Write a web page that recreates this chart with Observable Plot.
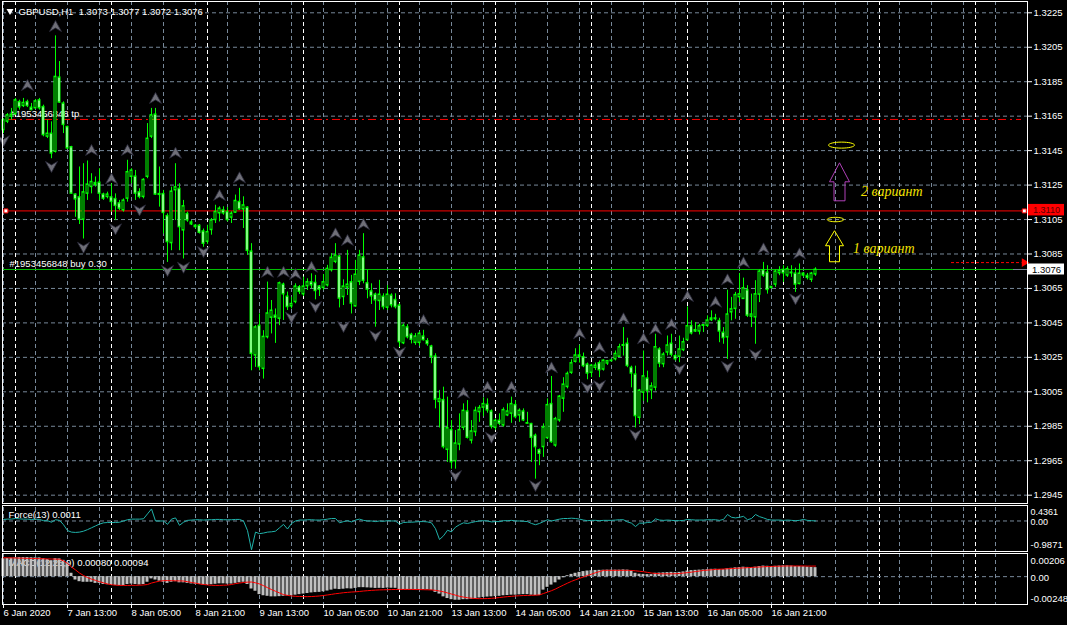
<!DOCTYPE html>
<html>
<head>
<meta charset="utf-8">
<script src="https://cdn.jsdelivr.net/npm/d3@7"></script>
<script src="https://cdn.jsdelivr.net/npm/@observablehq/plot@0.6"></script>
<style>
  html, body { margin: 0; padding: 0; background: #000; }
  #chart { position: relative; width: 1067px; height: 625px; background: #000; overflow: hidden; }
</style>
</head>
<body>
<div id="chart"></div>
<script>
// ================= DATA =================
const chartTitle = "GBPUSD,H1\u00a0 1.3073 1.3077 1.3072 1.3076";

const opens = [
1.31568,1.31617,1.31646,1.31660,1.31733,1.31708,1.31733,1.31700,1.31695,1.31743,
1.31704,1.31530,1.31549,1.31442,1.31875,1.31724,1.31588,1.31471,1.31196,1.31180,
1.31048,1.31199,1.31238,1.31263,1.31265,1.31196,1.31180,1.31180,1.31170,1.31145,
1.31102,1.31170,1.31297,1.31300,1.31209,1.31180,1.31297,1.31530,1.31660,1.31199,
1.31199,1.31071,1.30912,1.31219,1.31229,1.30986,1.31083,1.31034,1.31015,1.31015,
1.30982,1.30920,1.30988,1.31046,1.31085,1.31104,1.31095,1.31060,1.31089,1.31153,
1.31108,1.31120,1.30865,1.30260,1.30434,1.30182,1.30366,1.30479,1.30493,1.30473,
1.30673,1.30603,1.30545,1.30570,1.30658,1.30615,1.30662,1.30687,1.30683,1.30662,
1.30652,1.30667,1.30755,1.30803,1.30836,1.30599,1.30654,1.30687,1.30545,1.30687,
1.30832,1.30681,1.30634,1.30615,1.30576,1.30603,1.30537,1.30609,1.30584,1.30551,
1.30331,1.30425,1.30382,1.30333,1.30333,1.30372,1.30345,1.30314,1.30256,1.29990,
1.30003,1.29712,1.29829,1.29646,1.29743,1.29840,1.29937,1.29766,1.29815,1.29931,
1.29957,1.29976,1.29937,1.29840,1.29883,1.29854,1.29912,1.29922,1.29974,1.29912,
1.29937,1.29869,1.29864,1.29796,1.29712,1.29728,1.29780,1.29980,1.29737,1.29883,
1.30009,1.30077,1.30159,1.30223,1.30262,1.30252,1.30209,1.30159,1.30188,1.30217,
1.30178,1.30213,1.30227,1.30238,1.30252,1.30316,1.30330,1.30190,1.30151,1.29898,
1.30044,1.30128,1.30058,1.30073,1.30297,1.30209,1.30277,1.30330,1.30258,1.30252,
1.30291,1.30349,1.30432,1.30399,1.30399,1.30432,1.30432,1.30465,1.30477,1.30462,
1.30394,1.30365,1.30510,1.30530,1.30598,1.30588,1.30640,1.30485,1.30481,1.30613,
1.30757,1.30743,1.30652,1.30671,1.30737,1.30759,1.30724,1.30743,1.30737,1.30675,
1.30737,1.30724,1.30699,1.30730];

const highs = [
1.31636,1.31665,1.31695,1.31753,1.31743,1.31753,1.31743,1.31724,1.31747,1.31753,
1.31714,1.31627,1.31617,1.32116,1.31967,1.31733,1.31592,1.31475,1.31199,1.31355,
1.31374,1.31390,1.31316,1.31297,1.31345,1.31203,1.31209,1.31258,1.31199,1.31161,
1.31170,1.31394,1.31345,1.31335,1.31229,1.31287,1.31607,1.31695,1.31695,1.31355,
1.31219,1.31083,1.31238,1.31374,1.31258,1.31161,1.31093,1.31044,1.31021,1.31021,
1.30995,1.31017,1.31056,1.31133,1.31124,1.31124,1.31120,1.31095,1.31192,1.31231,
1.31182,1.31124,1.30910,1.30434,1.30502,1.30405,1.30687,1.30580,1.30531,1.30687,
1.30681,1.30629,1.30599,1.30677,1.30667,1.30716,1.30706,1.30735,1.30726,1.30667,
1.30731,1.30784,1.30852,1.30910,1.30842,1.30700,1.30871,1.30726,1.30813,1.30871,
1.30968,1.30755,1.30677,1.30623,1.30697,1.30619,1.30667,1.30619,1.30619,1.30561,
1.30444,1.30440,1.30390,1.30388,1.30398,1.30407,1.30359,1.30320,1.30271,1.30058,
1.30077,1.30019,1.29883,1.29825,1.29922,1.29980,1.29999,1.29883,1.29961,1.29970,
1.30015,1.30009,1.29945,1.29893,1.29922,1.29957,1.29980,1.30019,1.29999,1.29951,
1.29951,1.29931,1.29867,1.29805,1.29718,1.29864,1.30009,1.30139,1.29902,1.30029,
1.30132,1.30165,1.30236,1.30300,1.30320,1.30275,1.30217,1.30209,1.30217,1.30229,
1.30236,1.30232,1.30240,1.30287,1.30326,1.30423,1.30361,1.30199,1.30199,1.30064,
1.30287,1.30170,1.30102,1.30384,1.30306,1.30277,1.30374,1.30384,1.30267,1.30374,
1.30361,1.30543,1.30462,1.30452,1.30442,1.30442,1.30491,1.30520,1.30500,1.30477,
1.30423,1.30640,1.30598,1.30627,1.30737,1.30710,1.30666,1.30617,1.30695,1.30757,
1.30801,1.30782,1.30660,1.30757,1.30776,1.30782,1.30776,1.30782,1.30768,1.30792,
1.30743,1.30737,1.30743,1.30770];

const lows = [
1.31549,1.31607,1.31627,1.31656,1.31685,1.31700,1.31700,1.31681,1.31689,1.31685,
1.31530,1.31520,1.31403,1.31436,1.31724,1.31549,1.31456,1.31196,1.31063,1.31021,
1.30937,1.31161,1.31199,1.31238,1.31161,1.31161,1.31170,1.31093,1.31044,1.31102,
1.31093,1.31151,1.31258,1.31161,1.31170,1.31170,1.31287,1.31520,1.31190,1.31122,
1.30966,1.30801,1.30869,1.31044,1.30869,1.30821,1.31034,1.31015,1.30995,1.30966,
1.30889,1.30906,1.30959,1.31027,1.31036,1.31075,1.31036,1.31027,1.31085,1.31104,
1.30998,1.30842,1.30172,1.30192,1.30172,1.30124,1.30357,1.30386,1.30331,1.30434,
1.30464,1.30522,1.30531,1.30561,1.30615,1.30603,1.30638,1.30648,1.30584,1.30603,
1.30638,1.30658,1.30745,1.30794,1.30537,1.30551,1.30609,1.30502,1.30541,1.30667,
1.30677,1.30590,1.30557,1.30425,1.30522,1.30526,1.30522,1.30537,1.30531,1.30308,
1.30324,1.30357,1.30328,1.30320,1.30314,1.30345,1.30314,1.30213,1.29951,1.29840,
1.29718,1.29640,1.29601,1.29601,1.29708,1.29825,1.29776,1.29747,1.29790,1.29873,
1.29906,1.29926,1.29834,1.29825,1.29854,1.29844,1.29906,1.29867,1.29893,1.29873,
1.29877,1.29864,1.29640,1.29543,1.29621,1.29669,1.29776,1.29751,1.29728,1.29873,
1.29931,1.30067,1.30151,1.30217,1.30217,1.30190,1.30120,1.30132,1.30174,1.30132,
1.30170,1.30203,1.30223,1.30229,1.30248,1.30258,1.30190,1.30073,1.29840,1.29860,
1.29995,1.29986,1.30005,1.30054,1.30190,1.30190,1.30258,1.30252,1.30229,1.30219,
1.30283,1.30345,1.30380,1.30394,1.30380,1.30394,1.30423,1.30458,1.30462,1.30335,
1.30326,1.30238,1.30462,1.30471,1.30568,1.30588,1.30481,1.30423,1.30326,1.30568,
1.30714,1.30617,1.30646,1.30656,1.30724,1.30685,1.30714,1.30714,1.30627,1.30671,
1.30714,1.30699,1.30685,1.30720];

const closes = [
1.31627,1.31656,1.31660,1.31743,1.31700,1.31728,1.31708,1.31685,1.31737,1.31695,
1.31539,1.31549,1.31432,1.31879,1.31728,1.31598,1.31462,1.31199,1.31166,1.31048,
1.31209,1.31254,1.31269,1.31250,1.31199,1.31170,1.31196,1.31151,1.31128,1.31112,
1.31161,1.31326,1.31335,1.31199,1.31180,1.31281,1.31520,1.31656,1.31194,1.31192,
1.31087,1.30918,1.31213,1.31238,1.31005,1.31128,1.31044,1.31021,1.31005,1.30972,
1.30908,1.30978,1.31046,1.31095,1.31114,1.31085,1.31046,1.31085,1.31159,1.31108,
1.31133,1.30867,1.30269,1.30425,1.30192,1.30370,1.30506,1.30522,1.30479,1.30681,
1.30615,1.30541,1.30561,1.30662,1.30629,1.30662,1.30687,1.30667,1.30634,1.30642,
1.30687,1.30765,1.30829,1.30842,1.30590,1.30662,1.30673,1.30561,1.30731,1.30842,
1.30693,1.30642,1.30603,1.30580,1.30615,1.30541,1.30615,1.30551,1.30541,1.30337,
1.30434,1.30366,1.30351,1.30372,1.30388,1.30349,1.30326,1.30252,1.30003,1.30009,
1.29728,1.29840,1.29640,1.29751,1.29829,1.29941,1.29782,1.29821,1.29941,1.29957,
1.29980,1.29941,1.29848,1.29883,1.29864,1.29945,1.29937,1.29980,1.29902,1.29941,
1.29883,1.29864,1.29782,1.29728,1.29689,1.29844,1.29974,1.29757,1.29893,1.30023,
1.30093,1.30155,1.30217,1.30262,1.30252,1.30198,1.30155,1.30203,1.30203,1.30174,
1.30232,1.30229,1.30232,1.30271,1.30310,1.30322,1.30199,1.30155,1.29908,1.30058,
1.30141,1.30054,1.30083,1.30310,1.30213,1.30267,1.30320,1.30264,1.30238,1.30297,
1.30339,1.30432,1.30388,1.30409,1.30432,1.30438,1.30465,1.30477,1.30471,1.30399,
1.30361,1.30500,1.30530,1.30613,1.30617,1.30652,1.30491,1.30500,1.30617,1.30749,
1.30724,1.30640,1.30660,1.30749,1.30753,1.30737,1.30763,1.30737,1.30671,1.30737,
1.30724,1.30710,1.30737,1.30760];

const forceValues = [
0.05,0.06,0.06,0.08,0.07,0.06,0.06,0.05,0.06,0.05,
0.01,0.01,-0.04,0.04,0.02,-0.12,-0.31,-0.36,-0.37,-0.36,
-0.33,-0.28,-0.22,-0.16,-0.10,-0.06,-0.05,-0.05,-0.05,-0.04,
0.00,0.04,0.06,0.06,0.06,0.07,0.23,0.39,0.00,0.00,
0.00,-0.11,0.06,0.10,-0.14,-0.04,0.02,0.03,0.04,0.04,
0.03,0.04,0.04,0.05,0.05,0.04,0.04,0.04,0.05,0.05,
0.00,-0.31,-0.93,-0.36,-0.41,-0.39,-0.36,-0.35,-0.33,-0.22,
-0.11,-0.26,-0.08,0.00,0.03,0.03,0.04,0.04,0.03,0.03,
0.04,0.06,0.08,0.08,-0.06,-0.02,0.01,-0.03,0.03,0.06,
0.02,0.00,0.00,-0.02,0.00,-0.01,0.01,0.00,0.00,-0.10,
-0.05,-0.04,-0.04,-0.03,-0.02,-0.02,-0.03,-0.06,-0.25,-0.60,
-0.48,-0.30,-0.35,-0.20,-0.12,-0.06,-0.08,-0.05,-0.02,0.00,
0.01,0.00,-0.03,-0.02,-0.02,0.01,0.01,0.02,0.00,0.00,
-0.01,-0.02,-0.08,-0.12,-0.08,-0.02,0.04,0.00,0.03,0.06,
0.08,0.08,0.09,0.08,0.06,0.03,0.01,0.02,0.02,0.01,
0.02,0.02,0.02,0.03,0.04,0.04,-0.03,-0.07,-0.18,-0.07,
-0.07,-0.05,-0.04,0.07,0.03,0.02,0.03,0.02,0.01,0.01,
0.02,0.05,0.04,0.03,0.03,0.03,0.04,0.04,0.04,0.02,
0.05,0.21,0.12,0.10,0.12,0.15,0.04,0.08,0.21,0.14,
0.10,0.05,0.03,0.03,0.03,0.02,0.03,0.02,0.01,0.02,
0.05,0.02,0.01,0.0011];

const macdMain = [
0.00160,0.00162,0.00165,0.00168,0.00170,0.00170,0.00170,0.00168,0.00168,0.00167,
0.00160,0.00152,0.00142,0.00160,0.00158,0.00145,0.00125,0.00030,-0.00030,-0.00045,
-0.00050,-0.00050,-0.00050,-0.00060,-0.00060,-0.00070,-0.00072,-0.00074,-0.00078,-0.00080,
-0.00080,-0.00070,-0.00066,-0.00070,-0.00074,-0.00070,-0.00050,-0.00020,-0.00030,-0.00040,
-0.00050,-0.00060,-0.00050,-0.00045,-0.00055,-0.00055,-0.00060,-0.00065,-0.00068,-0.00070,
-0.00075,-0.00075,-0.00072,-0.00068,-0.00064,-0.00064,-0.00066,-0.00066,-0.00060,-0.00055,
-0.00050,-0.00070,-0.00110,-0.00130,-0.00160,-0.00170,-0.00175,-0.00180,-0.00180,-0.00178,
-0.00175,-0.00172,-0.00170,-0.00165,-0.00160,-0.00155,-0.00150,-0.00145,-0.00142,-0.00140,
-0.00135,-0.00128,-0.00120,-0.00112,-0.00115,-0.00112,-0.00108,-0.00110,-0.00105,-0.00098,
-0.00098,-0.00100,-0.00102,-0.00105,-0.00104,-0.00105,-0.00102,-0.00103,-0.00104,-0.00115,
-0.00115,-0.00116,-0.00117,-0.00118,-0.00116,-0.00116,-0.00117,-0.00122,-0.00140,-0.00155,
-0.00180,-0.00195,-0.00205,-0.00210,-0.00210,-0.00205,-0.00205,-0.00202,-0.00198,-0.00190,
-0.00185,-0.00182,-0.00180,-0.00178,-0.00175,-0.00170,-0.00168,-0.00165,-0.00165,-0.00162,
-0.00160,-0.00160,-0.00165,-0.00168,-0.00168,-0.00120,-0.00095,-0.00075,-0.00055,-0.00030,
-0.00010,0.00008,0.00020,0.00030,0.00038,0.00045,0.00050,0.00053,0.00055,0.00056,
0.00057,0.00058,0.00058,0.00058,0.00058,0.00060,0.00058,0.00050,0.00030,0.00022,
0.00020,0.00018,0.00018,0.00030,0.00032,0.00034,0.00036,0.00038,0.00036,0.00038,
0.00042,0.00050,0.00054,0.00056,0.00058,0.00060,0.00062,0.00065,0.00066,0.00064,
0.00062,0.00070,0.00074,0.00078,0.00080,0.00084,0.00082,0.00080,0.00084,0.00090,
0.00094,0.00092,0.00090,0.00092,0.00094,0.00096,0.00096,0.00094,0.00090,0.00090,
0.00088,0.00085,0.00082,0.00080];

const macdSignal = [
0.00168,0.00168,0.00167,0.00166,0.00165,0.00164,0.00163,0.00162,0.00161,0.00160,
0.00159,0.00158,0.00157,0.00156,0.00155,0.00140,0.00118,0.00086,0.00060,0.00032,
0.00010,-0.00008,-0.00022,-0.00033,-0.00045,-0.00055,-0.00065,-0.00072,-0.00076,-0.00078,
-0.00078,-0.00078,-0.00077,-0.00077,-0.00076,-0.00074,-0.00070,-0.00057,-0.00048,-0.00040,
-0.00036,-0.00035,-0.00036,-0.00037,-0.00038,-0.00039,-0.00045,-0.00052,-0.00058,-0.00065,
-0.00070,-0.00074,-0.00077,-0.00078,-0.00078,-0.00076,-0.00075,-0.00070,-0.00062,-0.00057,
-0.00052,-0.00049,-0.00048,-0.00055,-0.00065,-0.00080,-0.00098,-0.00115,-0.00130,-0.00145,
-0.00160,-0.00167,-0.00172,-0.00175,-0.00176,-0.00178,-0.00178,-0.00177,-0.00175,-0.00172,
-0.00168,-0.00163,-0.00158,-0.00152,-0.00148,-0.00143,-0.00140,-0.00137,-0.00135,-0.00132,
-0.00128,-0.00125,-0.00122,-0.00120,-0.00118,-0.00117,-0.00116,-0.00115,-0.00114,-0.00114,
-0.00114,-0.00114,-0.00114,-0.00115,-0.00115,-0.00116,-0.00117,-0.00118,-0.00122,-0.00128,
-0.00135,-0.00145,-0.00155,-0.00165,-0.00175,-0.00182,-0.00188,-0.00192,-0.00195,-0.00196,
-0.00196,-0.00195,-0.00193,-0.00190,-0.00186,-0.00182,-0.00178,-0.00175,-0.00172,-0.00170,
-0.00168,-0.00167,-0.00166,-0.00165,-0.00163,-0.00150,-0.00138,-0.00125,-0.00110,-0.00092,
-0.00075,-0.00058,-0.00042,-0.00028,-0.00015,-0.00003,0.00010,0.00022,0.00035,0.00045,
0.00056,0.00056,0.00056,0.00056,0.00056,0.00056,0.00056,0.00055,0.00052,0.00048,
0.00044,0.00038,0.00032,0.00028,0.00026,0.00025,0.00025,0.00025,0.00026,0.00028,
0.00032,0.00036,0.00040,0.00045,0.00050,0.00055,0.00058,0.00061,0.00064,0.00066,
0.00068,0.00070,0.00072,0.00074,0.00076,0.00078,0.00080,0.00082,0.00084,0.00086,
0.00088,0.00090,0.00091,0.00092,0.00093,0.00094,0.00095,0.00095,0.00095,0.00095,
0.00095,0.00094,0.00094,0.00094];

const priceTicks = [1.2945,1.2965,1.2985,1.3005,1.3025,1.3045,1.3065,1.3085,1.3105,1.3125,1.3145,1.3165,1.3185,1.3205,1.3225];
const timeTickBars = [0,16,32,48,64,80,96,112,128,144,160,176,192];
const timeTickLabels = ["6 Jan 2020","7 Jan 13:00","8 Jan 05:00","8 Jan 21:00","9 Jan 13:00","10 Jan 05:00","10 Jan 21:00","13 Jan 13:00","14 Jan 05:00","14 Jan 21:00","15 Jan 13:00","16 Jan 05:00","16 Jan 21:00"];

const fractalUpBars   = [6,13,22,27,31,38,43,54,59,66,70,73,77,83,86,90,105,115,121,127,137,144,149,155,160,163,167,171,178,181,185,190,199];
const fractalUpPrices = [1.31828,1.32170,1.31451,1.31286,1.31451,1.31753,1.31435,1.31190,1.31292,1.30744,1.30744,1.30731,1.30773,1.30967,1.30928,1.31021,1.30464,1.30042,1.30077,1.30077,1.30189,1.30387,1.30306,1.30474,1.30358,1.30412,1.30441,1.30603,1.30570,1.30700,1.30799,1.30880,1.30851];
const fractalDownBars   = [0,12,20,28,34,41,45,50,72,78,85,93,99,113,122,133,146,149,158,169,181,188,198];
const fractalDownPrices = [1.31508,1.31358,1.30889,1.30996,1.31106,1.30754,1.30773,1.30864,1.30483,1.30545,1.30429,1.30377,1.30280,1.29564,1.29786,1.29506,1.30077,1.30087,1.29802,1.30184,1.30197,1.30267,1.30590];

const levelPrice = 1.3110;            // red horizontal line
const levelAnchorBars = [0.6, 255.2]; // its selection points
const tpPrice = 1.31631;
const buyPrice = 1.3076;
const bidPrice = 1.3076;
const dottedArrowPrice = 1.3080;
const dottedArrowBars = [237, 254.6];
const orderLabels = ["#1953456848 tp", "#1953456848 buy 0.30"];
const forceLabel = "Force(13) 0.0011";
const forceScale = [0.4361, 0, -0.9871];
const forceScaleText = ["0.4361", "0.00", "-0.9871"];
const macdLabel = "MACD(12,26,9) 0.00080 0.00094";
const macdScale = [0.00206, 0, -0.00248];
const macdScaleText = ["0.00206", "0.00", "-0.00248"];

const variantTexts  = ["1 вариант", "2 вариант"];
const variantBars   = [212.4, 214.4];
const variantPrices = [1.30882, 1.31215];
const ellipseBars   = [209.5, 208.0];
const ellipsePrices = [1.31482, 1.31050];
const arrowBars     = [207.75, 209.0];
const arrowPrices   = [1.30895, 1.31269];

// ================= CHECK =================
for (const [n, a] of Object.entries({opens, highs, lows, closes, forceValues, macdMain, macdSignal})) {
  if (a.length !== 204) throw new Error(n + " has length " + a.length);
}

// ================= HELPERS =================
const W = 1067;
const X0 = -0.25, X1 = 256;               // bar k sits at 3 + 4k px; frame spans 2..1027
const boxFrom = X1 + 0.25, boxTo = X1 + 9.25, boxMid = X1 + 4.75;   // price-scale box column
const FONT = "'Liberation Sans', Arial, sans-serif";
const GRID = "#778899";
const baseStyle = {background: "transparent", color: "#ffffff", fontFamily: FONT, fontSize: "9.5px", overflow: "visible"};

function shape(pts) {
  return {draw(ctx) { ctx.moveTo(pts[0][0], pts[0][1]); for (let j = 1; j < pts.length; j++) ctx.lineTo(pts[j][0], pts[j][1]); ctx.closePath(); }};
}
function ellipse(rx, ry) {
  const k = 0.5523;
  return {draw(ctx) {
    ctx.moveTo(rx, 0);
    ctx.bezierCurveTo(rx, ry * k, rx * k, ry, 0, ry);
    ctx.bezierCurveTo(-rx * k, ry, -rx, ry * k, -rx, 0);
    ctx.bezierCurveTo(-rx, -ry * k, -rx * k, -ry, 0, -ry);
    ctx.bezierCurveTo(rx * k, -ry, rx, -ry * k, rx, 0);
    ctx.closePath();
  }};
}
function upArrow(w, sw, h, hh) {
  const t = -h / 2, b = h / 2, m = t + hh;
  return shape([[0, t], [w / 2, m], [sw / 2, m], [sw / 2, b], [-sw / 2, b], [-sw / 2, m], [-w / 2, m]]);
}
function box(w, h) { return {draw(ctx) { ctx.rect(-w / 2, -h / 2, w, h); }}; }

const fracUp = shape([[0, -6], [6, 5], [0, 1.5], [-6, 5]]);
const fracDown = shape([[0, 6], [6, -5], [0, -1.5], [-6, -5]]);

const bars = opens.map((o, i) => ({i, o, h: highs[i], l: lows[i], c: closes[i]}));
const upFr = fractalUpBars.map((k, j) => ({k, p: fractalUpPrices[j]}));
const dnFr = fractalDownBars.map((k, j) => ({k, p: fractalDownPrices[j]}));

const gridK = d3.range(0, 256, 8);
const sepK = d3.range(3, 256, 24);
const gridMarks = () => [
  Plot.ruleX(gridK, {stroke: GRID, strokeDasharray: "4,3"}),
  Plot.ruleX(sepK, {stroke: "#ffffff", strokeDasharray: "4,3"})
];

const root = document.getElementById("chart");
function place(el, top) { el.style.position = "absolute"; el.style.left = "0px"; el.style.top = top + "px"; root.appendChild(el); }

// ================= MAIN PRICE PANEL =================
const main = Plot.plot({
  width: W, height: 504, marginLeft: 2, marginRight: 40, marginTop: 1, marginBottom: 1,
  x: {domain: [X0, X1], axis: null},
  y: {domain: [1.294017, 1.323156], axis: null},
  style: baseStyle,
  marks: [
    Plot.ruleY(priceTicks, {stroke: GRID, strokeDasharray: "4,3"}),
    ...gridMarks(),
    // order labels (under candles)
    Plot.text([orderLabels[0]], {y: () => tpPrice, frameAnchor: "left", dx: 8, dy: -5.5, textAnchor: "start", fill: "#ffffff", fontSize: 9.5}),
    Plot.text([orderLabels[1]], {y: () => buyPrice, frameAnchor: "left", dx: 7, dy: -5.5, textAnchor: "start", fill: "#ffffff", fontSize: 9.5}),
    // order / level lines
    Plot.ruleY([bidPrice], {stroke: GRID}),
    Plot.ruleY([buyPrice], {stroke: "#00c000", insetRight: 14}),
    Plot.ruleY([tpPrice], {stroke: "#ff0000", strokeDasharray: "8,4,2,4", insetLeft: 6, insetRight: 6}),
    Plot.ruleY([levelPrice], {stroke: "#ff0000", insetRight: 4}),
    // candles
    Plot.ruleX(bars, {x: "i", y1: "l", y2: "h", stroke: "#00ff00"}),
    Plot.rect(bars, {x1: d => d.i - 0.375, x2: d => d.i + 0.375, y1: "o", y2: "c", fill: "#00ff00", insetTop: -0.5, insetBottom: -0.5}),
    Plot.rect(bars.filter(d => Math.abs(d.o - d.c) > 0.00013), {x1: d => d.i - 0.375, x2: d => d.i + 0.375, y1: "o", y2: "c", inset: 1, fill: d => d.c >= d.o ? "#000000" : "#ffffff"}),
    // fractals
    Plot.dot(upFr, {x: "k", y: "p", symbol: fracUp, r: 6, fill: "#6f6f78", stroke: "#2a2a3a", strokeWidth: 0.8}),
    Plot.dot(dnFr, {x: "k", y: "p", symbol: fracDown, r: 6, fill: "#6f6f78", stroke: "#2a2a3a", strokeWidth: 0.8}),
    // level selection points
    Plot.dot(levelAnchorBars, {x: d => d, y: () => levelPrice, symbol: box(4, 4), r: 1, fill: "#ffffff", stroke: "#ff0000", strokeWidth: 1}),
    // dotted red arrow
    Plot.ruleY([dottedArrowPrice], {x1: () => dottedArrowBars[0], x2: () => dottedArrowBars[1], stroke: "#ff0000", strokeDasharray: "3,2"}),
    Plot.dot([dottedArrowPrice], {x: () => dottedArrowBars[1] + 0.6, y: d => d, symbol: "triangle", rotate: 90, r: 3.2, fill: "#ff0000", stroke: "none"}),
    // annotations
    Plot.dot([0], {x: () => ellipseBars[0], y: () => ellipsePrices[0], symbol: ellipse(13, 3), r: 1, fill: "none", stroke: "#ffff00", strokeWidth: 1}),
    Plot.dot([0], {x: () => ellipseBars[1], y: () => ellipsePrices[1], symbol: ellipse(8.3, 2.2), r: 1, fill: "none", stroke: "#ffff00", strokeWidth: 1}),
    Plot.dot([0], {x: () => arrowBars[0], y: () => arrowPrices[0], symbol: upArrow(18, 10, 31, 15), r: 1, fill: "none", stroke: "#ffff00", strokeWidth: 1}),
    Plot.dot([0], {x: () => arrowBars[1], y: () => arrowPrices[1], symbol: upArrow(20, 11, 38, 19), r: 1, fill: "none", stroke: "#b040b8", strokeWidth: 1}),
    Plot.text(variantTexts, {x: (d, i) => variantBars[i], y: (d, i) => variantPrices[i], text: d => d, textAnchor: "start", fill: "#f2e200", fontFamily: "'Liberation Serif', 'Times New Roman', serif", fontStyle: "italic", fontSize: 14}),
    // title
    Plot.dot([0], {frameAnchor: "top-left", dx: 7.5, dy: 9.5, symbol: "triangle", rotate: 180, r: 2.6, fill: "#ffffff", stroke: "none"}),
    Plot.text([chartTitle], {frameAnchor: "top-left", dx: 16, dy: 10, textAnchor: "start", lineAnchor: "middle", fill: "#ffffff", fontSize: 9.5}),
    // frame + right price axis
    Plot.frame({stroke: "#ffffff"}),
    Plot.axisY(priceTicks, {anchor: "right", tickSize: 4, tickPadding: 2, tickFormat: d => d.toFixed(4), stroke: "#ffffff", fill: "#ffffff", fontSize: 9.5}),
    // price boxes on the scale
    Plot.rect([levelPrice], {x1: () => boxFrom, x2: () => boxTo, y1: d => d, y2: d => d, insetTop: -6.5, insetBottom: -5, fill: "#ff0000"}),
    Plot.text([levelPrice], {x: () => boxMid, y: d => d, dy: -1.2, text: d => d.toFixed(4), fill: "#5a0000", fontSize: 9}),
    Plot.rect([bidPrice], {x1: () => boxFrom, x2: () => boxTo, y1: d => d, y2: d => d, insetTop: -5.5, insetBottom: -5.5, fill: "#ffffff"}),
    Plot.text([bidPrice], {x: () => boxMid, y: d => d, text: d => d.toFixed(4), fill: "#000000", fontSize: 9.5})
  ]
});
place(main, 0);

// ================= FORCE PANEL =================
const force = Plot.plot({
  width: W, height: 46, marginLeft: 2, marginRight: 40, marginTop: 2, marginBottom: 0,
  x: {domain: [X0, X1], axis: null},
  y: {domain: [-0.9871, 0.4361], axis: null},
  style: baseStyle,
  marks: [
    ...gridMarks(),
    Plot.ruleY([0], {stroke: GRID, strokeDasharray: "4,3"}),
    Plot.text([forceLabel], {frameAnchor: "top-left", dx: 6, dy: 7.7, textAnchor: "start", lineAnchor: "middle", fill: "#ffffff", fontSize: 9.5}),
    Plot.line(forceValues, {x: (d, i) => i, y: d => d, stroke: "#20b2aa", strokeWidth: 1}),
    Plot.frame({stroke: "#ffffff", insetTop: -2}),
    Plot.text([forceScale[0]], {y: d => d, frameAnchor: "right", dx: 3, dy: 4.8, textAnchor: "start", text: () => forceScaleText[0], fill: "#ffffff", fontSize: 9}),
    Plot.text([forceScale[1]], {y: d => d, frameAnchor: "right", dx: 3, dy: 1, textAnchor: "start", text: () => forceScaleText[1], fill: "#ffffff", fontSize: 9}),
    Plot.text([forceScale[2]], {y: d => d, frameAnchor: "right", dx: 3, dy: -7, textAnchor: "start", text: () => forceScaleText[2], fill: "#ffffff", fontSize: 9.5})
  ]
});
place(force, 505);

// ================= MACD PANEL =================
const hist = macdMain.map((v, i) => ({i, v}));
const macd = Plot.plot({
  width: W, height: 72, marginLeft: 2, marginRight: 40, marginTop: 0, marginBottom: 21,
  x: {domain: [X0, X1], axis: null},
  y: {domain: [-0.00248, 0.00206], axis: null},
  style: baseStyle,
  marks: [
    ...gridMarks(),
    Plot.ruleY([0], {stroke: GRID, strokeDasharray: "4,3"}),
    Plot.text([macdLabel], {frameAnchor: "top-left", dx: 6, dy: 9.3, textAnchor: "start", lineAnchor: "middle", fill: "#ffffff", fontSize: 9.5}),
    Plot.rect(hist, {x1: d => d.i - 0.375, x2: d => d.i + 0.375, y1: () => 0, y2: "v", fill: "#c0c0c0"}),
    Plot.line(macdSignal, {x: (d, i) => i, y: d => d, stroke: "#ff0000", strokeWidth: 1}),
    Plot.frame({stroke: "#ffffff"}),
    Plot.text([macdScale[0]], {y: d => d, frameAnchor: "right", dx: 3, dy: 7.7, textAnchor: "start", text: () => macdScaleText[0], fill: "#ffffff", fontSize: 9.5}),
    Plot.text([macdScale[1]], {y: d => d, frameAnchor: "right", dx: 3, dy: 1, textAnchor: "start", text: () => macdScaleText[1], fill: "#ffffff", fontSize: 9.5}),
    Plot.text([macdScale[2]], {y: d => d, frameAnchor: "right", dx: 3, dy: -5.7, textAnchor: "start", text: () => macdScaleText[2], fill: "#ffffff", fontSize: 9.5}),
    Plot.axisX(timeTickBars, {anchor: "bottom", tickSize: 4, tickPadding: 1, tickFormat: d => timeTickLabels[timeTickBars.indexOf(d)], textAnchor: "start", stroke: "#ffffff", fill: "#ffffff", fontSize: 9.5})
  ]
});
place(macd, 553);
</script>
</body>
</html>
